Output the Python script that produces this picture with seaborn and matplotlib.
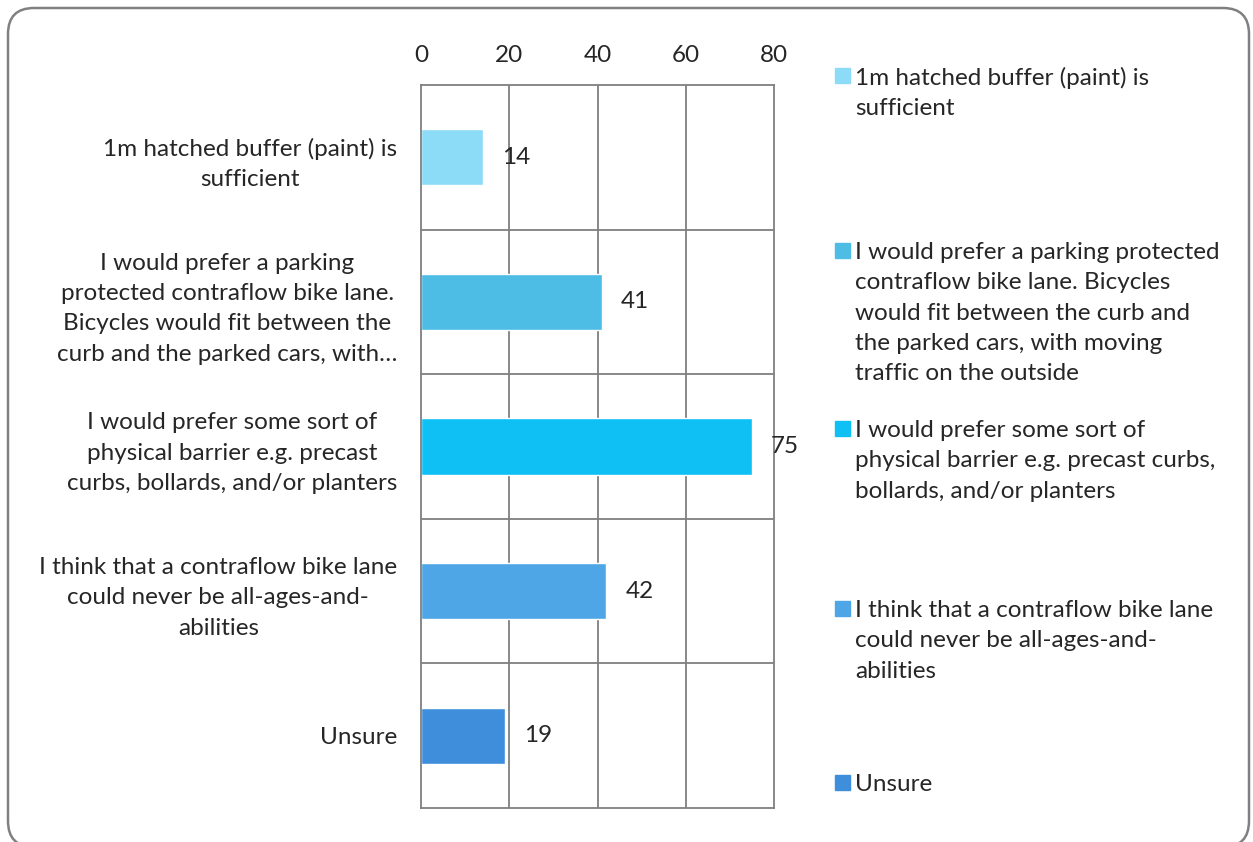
import matplotlib
matplotlib.use("Agg")
import matplotlib.pyplot as plt
import matplotlib.transforms as mtransforms
import seaborn as sns
import pandas as pd
from matplotlib.patches import FancyBboxPatch, Rectangle

sns.set_style("white")
plt.rcParams["font.family"] = ["Lato", "DejaVu Sans"]

categories = [
    "1m hatched buffer (paint) is\nsufficient",
    "I would prefer a parking\nprotected contraflow bike lane.\nBicycles would fit between the\ncurb and the parked cars, with\u2026",
    "I would prefer some sort of\nphysical barrier e.g. precast\ncurbs, bollards, and/or planters",
    "I think that a contraflow bike lane\ncould never be all-ages-and-\nabilities",
    "Unsure",
]
legend_labels = [
    "1m hatched buffer (paint) is\nsufficient",
    "I would prefer a parking protected\ncontraflow bike lane. Bicycles\nwould fit between the curb and\nthe parked cars, with moving\ntraffic on the outside",
    "I would prefer some sort of\nphysical barrier e.g. precast curbs,\nbollards, and/or planters",
    "I think that a contraflow bike lane\ncould never be all-ages-and-\nabilities",
    "Unsure",
]
values = [14, 41, 75, 42, 19]
colors = ["#8DDCF7", "#4DBDE6", "#0FC0F5", "#4EA6E6", "#3F8EDC"]
xticks = [0, 20, 40, 60, 80]

FS = 17.5
LS = 1.55
df = pd.DataFrame({"cat": categories, "val": values})

W, H = 1253, 842
fig = plt.figure(figsize=(W / 100, H / 100), dpi=100)
ax = fig.add_axes([421 / W, 1 - 808 / H, (774 - 421) / W, (808 - 85) / H])

sns.barplot(data=df, y="cat", x="val", hue="cat", palette=colors,
            orient="h", width=0.39, ax=ax, legend=False, saturation=1)

ax.set_xlim(0, 80)
ax.set_ylim(len(categories) - 0.5, -0.5)
ax.set_xticks(xticks)
ax.xaxis.tick_top()
ax.tick_params(axis="x", length=0, pad=14, labelsize=FS)
ax.tick_params(axis="y", length=0, pad=17, labelsize=FS)
ax.set_xlabel("")
ax.set_ylabel("")
for lab in ax.get_yticklabels():
    lab.set_multialignment("center")
    lab.set_linespacing(LS)

# grid: vertical at ticks, horizontal at category boundaries
for x in xticks[1:-1]:
    ax.axvline(x, color="#7f7f7f", lw=1.3, zorder=0)
for b in range(1, len(categories)):
    ax.axhline(b - 0.5, color="#7f7f7f", lw=1.3, zorder=0)
for s in ax.spines.values():
    s.set_color("#7f7f7f")
    s.set_linewidth(1.3)

for i, v in enumerate(values):
    ax.text(v + 4.3, i, str(v), va="center", ha="left", fontsize=FS)

# legend entries placed manually
leg_y = [75, 250, 428, 608, 782]
for lab, col, y in zip(legend_labels, colors, leg_y):
    fig.patches.append(Rectangle((835 / W, 1 - (y + 8) / H), 15 / W, 15 / H,
                                 transform=fig.transFigure, color=col))
    fig.text(855 / W, 1 - (y - 8) / H, lab, ha="left", va="top",
             fontsize=FS, linespacing=LS)

# rounded border (pixel coordinates)
fig.patches.append(FancyBboxPatch((8, H - 847), 1249 - 8, 847 - 8,
                                  boxstyle="round,pad=0,rounding_size=26",
                                  transform=mtransforms.IdentityTransform(),
                                  fill=False, ec="#808080", lw=1.8))

fig.savefig("out.png", dpi=100)
